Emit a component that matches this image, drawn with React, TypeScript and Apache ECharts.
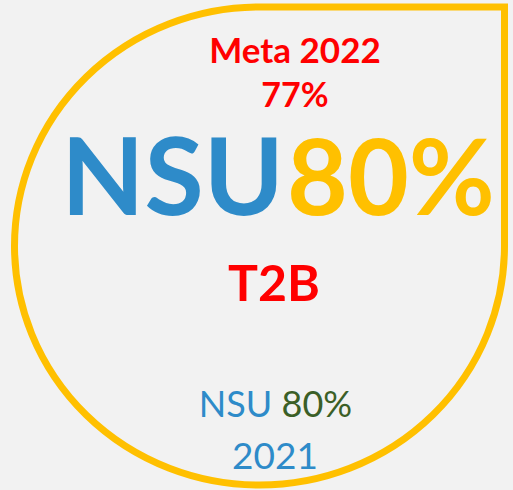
import React, { useEffect, useRef } from "react";
import * as echarts from "echarts";

// ---- data ----
const targetLabel = "Meta 2022";
const targetValue = "77%";
const brandLabel = "NSU";
const currentValue = "80%";
const metricLabel = "T2B";
const prevLabel = "NSU";
const prevValue = "80%";
const prevYear = "2021";

const FONT = "Lato";
const BLUE = "#2e8bc9";
const YELLOW = "#ffc000";
const RED = "#ff0000";
const GREEN = "#3b5f27";

// drop shape outline (rounded except top-right corner)
const cx = 259.5;
const cy = 246;
const rx = 245;
const ry = 239;
const top = cy - ry;
const right = cx + rx;
const d = `M ${cx} ${top} L ${right} ${top} L ${right} ${cy} A ${rx} ${ry} 0 0 1 ${cx} ${cy + ry} A ${rx} ${ry} 0 0 1 ${cx - rx} ${cy} A ${rx} ${ry} 0 0 1 ${cx} ${top} Z`;

function txt(text: string, x: number, capCenter: number, size: number, color: string, weight: string, align: string) {
  return {
    type: "text",
    x,
    y: capCenter - 0.027 * size,
    style: {
      text,
      fill: color,
      fontFamily: FONT,
      fontSize: size,
      fontWeight: weight,
      textAlign: align,
      textVerticalAlign: "middle",
    },
  };
}

export default function App() {
  const ref = useRef<HTMLDivElement>(null);
  useEffect(() => {
    document.body.style.margin = "0";
    const DropShape = echarts.graphic.extendPath(d as any, {});
    echarts.graphic.registerShape("drop", DropShape as any);
    const chart = echarts.init(ref.current!, undefined, { renderer: "svg" });
    chart.setOption({
      animation: false,
      backgroundColor: "#f2f2f2",
      graphic: [
        {
          type: "drop",
          x: 0,
          y: 0,
          shape: {},
          style: { fill: "none", stroke: YELLOW, lineWidth: 7 },
        },
        txt(targetLabel, 295, 49.5, 35, RED, "bold", "center"),
        txt(targetValue, 295, 94, 34, RED, "bold", "center"),
        txt(brandLabel, 284, 176, 108, BLUE, "bold", "right"),
        txt(currentValue, 287, 177, 105, YELLOW, "bold", "left"),
        txt(metricLabel, 274, 283, 50, RED, "bold", "center"),
        {
          type: "text",
          x: 275.5,
          y: 404 - 0.027 * 36,
          style: {
            text: `{b|${prevLabel}} {g|${prevValue}}`,
            textAlign: "center",
            textVerticalAlign: "middle",
            fontFamily: FONT,
            fontSize: 36,
            rich: {
              b: { fill: BLUE, color: BLUE, fontFamily: FONT, fontSize: 36 },
              g: { fill: GREEN, color: GREEN, fontFamily: FONT, fontSize: 36 },
            },
          },
        },
        txt(prevYear, 275, 455.5, 37, BLUE, "normal", "center"),
      ],
    });
    return () => chart.dispose();
  }, []);
  return (
    <div
      ref={ref}
      style={{ position: "absolute", left: 0, top: 0, width: 513, height: 490 }}
    />
  );
}
